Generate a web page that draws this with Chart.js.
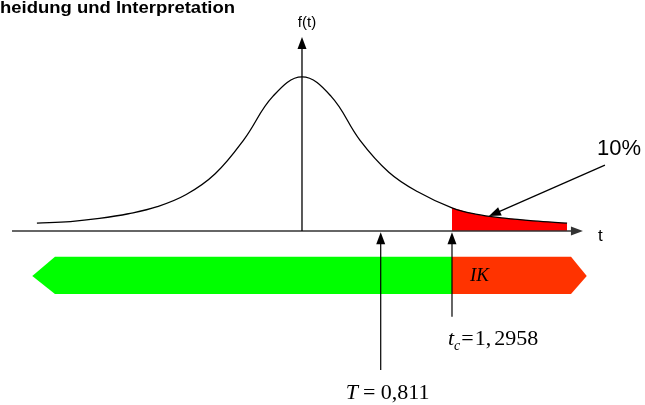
<!DOCTYPE html>
<html>
<head>
<meta charset="utf-8">
<script src="https://cdn.jsdelivr.net/npm/chart.js@4/dist/chart.umd.min.js"></script>
<style>
  body { margin: 0; background: #fff; }
  #wrap { width: 645px; height: 405px; }
</style>
</head>
<body>
<div id="wrap"><canvas id="tGraph" width="645" height="405"></canvas></div>
<script>
// Density curve of the test statistic
const curveT = [-2.29, -2.0, -1.75, -1.5, -1.25, -1.0, -0.75, -0.5, -0.25, 0, 0.25, 0.5, 0.75, 1.0, 1.2958, 1.5, 1.75, 2.0, 2.29];
const curveF = [0.020, 0.024, 0.032, 0.044, 0.062, 0.093, 0.146, 0.234, 0.344, 0.393, 0.344, 0.232, 0.150, 0.100, 0.059, 0.043, 0.033, 0.026, 0.020];

// Critical value and test statistic
const tCrit = 1.2958;
const tStat = 0.811;
const tStatDrawnAt = 0.68;   // the sketch is not to scale
const alphaLabel = '10%';
const regionLabel = 'IK';
const titleText = 'Entscheidung und Interpretation';

// Decision band (green = keep H0, red = critical region)
const bandStart = -2.33;
const bandEnd = 2.46;

const curvePoints = curveT.map((t, i) => ({ x: t, y: curveF[i] }));
const tailPoints = curvePoints.filter(p => p.x >= tCrit);

const drawing = {
    id: 'drawing',
    afterDatasetsDraw(chart) {
        const ctx = chart.ctx;
        const X = v => chart.scales.x.getPixelForValue(v);
        const Y = v => chart.scales.y.getPixelForValue(v);

        function arrowHead(x1, y1, x2, y2, len, half) {
            const a = Math.atan2(y2 - y1, x2 - x1);
            ctx.beginPath();
            ctx.moveTo(x2, y2);
            ctx.lineTo(x2 - len * Math.cos(a) + half * Math.sin(a), y2 - len * Math.sin(a) - half * Math.cos(a));
            ctx.lineTo(x2 - len * Math.cos(a) - half * Math.sin(a), y2 - len * Math.sin(a) + half * Math.cos(a));
            ctx.closePath();
            ctx.fill();
        }
        function arrow(x1, y1, x2, y2, color, width) {
            ctx.strokeStyle = color;
            ctx.fillStyle = color;
            ctx.lineWidth = width;
            const a = Math.atan2(y2 - y1, x2 - x1);
            ctx.beginPath();
            ctx.moveTo(x1, y1);
            ctx.lineTo(x2 - 8 * Math.cos(a), y2 - 8 * Math.sin(a));
            ctx.stroke();
            arrowHead(x1, y1, x2, y2, 12, 4.5);
        }

        ctx.save();

        // axes
        arrow(X(-2.505), Y(0), X(2.427), Y(0), '#333', 1.6);
        arrow(X(0), Y(0), X(0), Y(0.495), '#000', 1.3);

        // decision band
        const top = Y(-0.066), bot = Y(-0.161), mid = Y(-0.1148);
        ctx.fillStyle = '#00ff00';
        ctx.beginPath();
        ctx.moveTo(X(bandStart), mid);
        ctx.lineTo(X(-2.134), top);
        ctx.lineTo(X(tCrit), top);
        ctx.lineTo(X(tCrit), bot);
        ctx.lineTo(X(-2.134), bot);
        ctx.closePath();
        ctx.fill();
        ctx.fillStyle = '#ff3300';
        ctx.beginPath();
        ctx.moveTo(X(tCrit), top);
        ctx.lineTo(X(2.324), top);
        ctx.lineTo(X(bandEnd), mid);
        ctx.lineTo(X(2.324), bot);
        ctx.lineTo(X(tCrit), bot);
        ctx.closePath();
        ctx.fill();

        ctx.fillStyle = '#000';
        ctx.font = 'italic 19px "Liberation Serif", "Times New Roman", serif';
        ctx.textBaseline = 'middle';
        ctx.textAlign = 'left';
        ctx.fillText(regionLabel, X(1.451), mid);

        // vertical arrows to t_c and T
        arrow(X(tStatDrawnAt), Y(-0.3546), X(tStatDrawnAt), Y(-0.003), '#000', 1.2);
        arrow(X(tCrit), Y(-0.219), X(tCrit), Y(-0.003), '#000', 1.2);

        // 10% pointer
        arrow(X(2.617), Y(0.168), X(1.615), Y(0.038), '#000', 1.2);

        // labels
        ctx.textBaseline = 'alphabetic';
        ctx.font = '22px "Liberation Sans", Arial, sans-serif';
        ctx.fillText(alphaLabel, X(2.548), Y(0.194));
        ctx.font = '17px "Liberation Sans", Arial, sans-serif';
        ctx.fillText('t', X(2.557), Y(-0.0255));
        ctx.font = '15px "Liberation Sans", Arial, sans-serif';
        ctx.textAlign = 'center';
        ctx.fillText('f(t)', X(0) + 5, Y(0.520));

        // t_c = 1,2958
        ctx.textAlign = 'left';
        const serif = '"Liberation Serif", "Times New Roman", serif';
        let x = X(tCrit) - 4;
        const yc = Y(-0.291);
        ctx.font = 'italic 22px ' + serif;
        ctx.fillText('t', x, yc);
        x += ctx.measureText('t').width;
        ctx.font = 'italic 14px ' + serif;
        ctx.fillText('c', x, yc + 5);
        x += ctx.measureText('c').width + 1;
        ctx.font = '22px ' + serif;
        ctx.fillText('=', x, yc);
        x += ctx.measureText('=').width + 1;
        const parts = tCrit.toFixed(4).split('.');
        ctx.fillText(parts[0] + ',', x, yc);
        x += ctx.measureText(parts[0] + ',').width + 3;
        ctx.fillText(parts[1], x, yc);

        // T = 0,811
        x = X(tStatDrawnAt) - 35;
        const yt = Y(-0.4286);
        ctx.font = 'italic 22px ' + serif;
        ctx.fillText('T', x, yt);
        x += ctx.measureText('T').width + 5;
        ctx.font = '22px ' + serif;
        ctx.fillText('= ' + String(tStat).replace('.', ','), x, yt);

        // title, cut off at the left edge
        ctx.font = 'bold 16px "Liberation Sans", Arial, sans-serif';
        const w = ctx.measureText('heidung und Interpretation').width;
        const sx = 235 / w;
        ctx.scale(sx, 1);
        ctx.textAlign = 'right';
        ctx.fillText(titleText, 235 / sx, 13);

        ctx.restore();
    }
};

const ctxT = document.getElementById('tGraph').getContext('2d');
const tGraph = new Chart(ctxT, {
    type: 'line',
    data: {
        datasets: [{
            label: 'f(t)',
            data: curvePoints,
            borderColor: '#000',
            borderWidth: 1.3,
            pointRadius: 0,
            tension: 0.4,
            fill: false
        }, {
            label: 'tail',
            data: tailPoints,
            borderWidth: 0,
            borderColor: 'rgba(0,0,0,0)',
            backgroundColor: '#ff0000',
            pointRadius: 0,
            tension: 0.4,
            fill: 'origin'
        }]
    },
    options: {
        responsive: false,
        animation: false,
        layout: { padding: 0 },
        plugins: { legend: { display: false }, tooltip: { enabled: false }, title: { display: false } },
        scales: {
            x: { type: 'linear', min: -2.6088, max: 2.9631, display: false },
            y: { type: 'linear', min: -0.4439, max: 0.5893, display: false }
        }
    },
    plugins: [drawing]
});
</script>
</body>
</html>
